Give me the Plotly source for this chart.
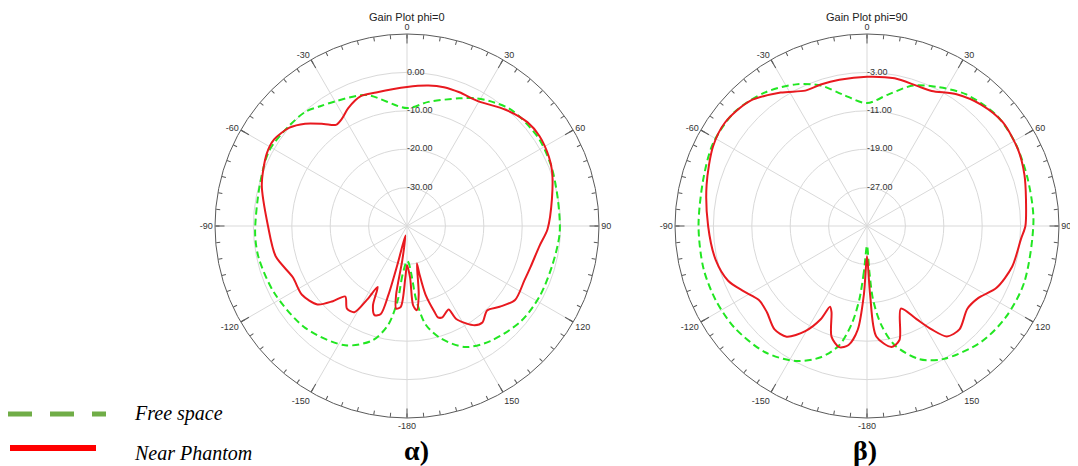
import plotly.graph_objects as go

# The page adds an 8px body margin, so the figure is sized/positioned to compensate.
VW, VH = 1078, 466
OFF = 8
W, H = VW - OFF, VH - OFF


def px(x):
    return (x - OFF) / W


def py(y):
    return 1 - (y - OFF) / H


# ---------------- data ----------------
series_names = ["Free space", "Near Phantom"]
panel_titles = ["Gain Plot phi=0", "Gain Plot phi=90"]
panel_labels = ["α)", "β)"]

angle_tickvals = [0, 30, 60, 90, 120, 150, 180, 210, 240, 270, 300, 330]
angle_ticktext = ["0", "30", "60", "90", "120", "150", "-180", "-150", "-120", "-90", "-60", "-30"]
minor_tickvals = list(range(0, 360, 5))

# ---- phi = 0 panel (dB) ----
r_range_phi0 = [-40, 10]
r_ticks_phi0 = [0, -10, -20, -30]
r_ticktext_phi0 = ["0.00", "-10.00", "-20.00", "-30.00"]

theta_free_phi0 = [-180, -174.7, -172.9, -169.3, -163.4, -152.6, -135, -116.8, -102.2, -92.9,
                   -74.4, -61.3, -50, -41.7, -35.9, -29.6, -17.2, 0, 9.8, 22.2, 28, 33.6, 40.8,
                   46.6, 56.8, 67.9, 79.8, 92.7, 105.1, 117.9, 129.7, 144.1, 154.2, 163.2, 169.3,
                   172.9, 174.7, 177.6, 180]
gain_free_phi0 = [-30.9, -27.1, -20.6, -13.9, -9.0, -5.0, -2.5, -1.3, -0.5, -0.4,
                  -0.2, 0.9, 0.3, -0.2, -1.5, -2.6, -4.3, -9.3, -7.2, -4.1, -2.3, -0.95, 0.5,
                  0.9, 1.2, 0.65, -0.1, -0.2, -0.8, -0.9, -1.3, -3.0, -5.0, -9.4, -13.9,
                  -20.6, -27.1, -30.5, -30.9]

theta_near_phi0 = [180, -178.2, -175.6, -172.5, -171.0, -172.2, -170.5, -166.1, -164.9, -163.4,
                   -160.0, -156.8, -154.3, -151.5, -148.6, -144.0, -138.8, -135.4, -131.2, -123.2,
                   -114.2, -103.0, -90, -74.2, -62.7, -56.9, -50.1, -44.9, -39.2, -35.1, -31.1,
                   -26.5, -19.6, -13.0, 0, 8.7, 14.9, 21.4, 29.6, 40.3, 49.2, 55.9, 64.1, 69.2,
                   79.4, 91.3, 98.5, 108.3, 115.0, 124.4, 131.1, 136.5, 142.0, 145.7, 152.1, 153.5,
                   158.8, 161.3, 162.2, 164.9, 165.5, 165.2, 170.3, 173.4, 175.6, 176.6, 180]
gain_near_phi0 = [-29.8, -26.6, -18.9, -18.3, -21.9, -31.1, -37.5, -30.0, -21.5, -16.1,
                  -15.3, -17.5, -22.4, -18.1, -13.7, -13.4, -15.6, -12.5, -9.0, -7.3,
                  -7.4, -4.9, -3.8, -0.7, 1.1, 1.3, -0.1, -2.4, -5.7, -7.8, -7.3,
                  -5.7, -4.1, -4.3, -3.8, -3.0, -2.6, -2.6, -2.6, -0.3, 1.4, 1.7, 1.1, 0.4,
                  -1.6, -3.4, -5.1, -6.1, -6.3, -5.9, -8.0, -9.7, -8.1, -8.7, -12.6, -15.7,
                  -14.5, -14.9, -16.4, -21.5, -27.1, -29.9, -21.9, -17.9, -19.3, -26.6, -29.8]

# ---- phi = 90 panel (dB) ----
r_range_phi90 = [-35, 5]
r_ticks_phi90 = [-3, -11, -19, -27]
r_ticktext_phi90 = ["-3.00", "-11.00", "-19.00", "-27.00"]

theta_free_phi90 = [-180, -176.1, -174.0, -171.1, -166.9, -160.6, -152.2, -141.1, -127.5, -116.1,
                    -104.6, -90, -73.6, -61.7, -49.3, -37.3, -26.6, -18.2, -10.6, 0, 9.3, 18.2,
                    27.1, 36.8, 49.5, 60.8, 73.3, 88, 109.7, 123.3, 135.4, 149.9, 158.5, 166.9,
                    171.9, 175.3, 177.0, 180]
gain_free_phi90 = [-30.9, -25.4, -19.5, -14.3, -9.5, -6.0, -3.2, -1.2, -0.2, 0.1,
                   0.2, 0.1, 0.5, 1.4, 1.4, 0.0, -2.0, -4.2, -7.1, -9.4, -7.2, -4.2,
                   -2.5, -0.7, 0.5, 0.4, -0.1, -0.3, -0.2, -0.4, -1.1, -3.0, -5.2, -9.5,
                   -14.3, -19.6, -25.4, -30.9]

theta_near_phi90 = [-180, -177.4, -174.9, -171.2, -167.1, -162.2, -157.6, -155.4, -153.6, -149.6,
                    -144.0, -138.2, -130.6, -124.4, -117.8, -111.5, -102.6, -90, -75.6, -62.7,
                    -53.8, -43.2, -32.9, -24.5, -18.1, -10.7, 0, 10.6, 19.4, 25.6, 34.2, 43.2,
                    52.6, 63.3, 71.9, 80.3, 90, 94.8, 105.7, 115.5, 123.0, 129.5, 138.2, 144.1,
                    148.0, 152.1, 157.7, 164.1, 168.5, 175.2, 177.4, 180]
gain_near_phi90 = [-28.7, -20.7, -13.3, -9.9, -9.1, -10.8, -15.6, -16.5, -13.3, -9.6,
                   -6.5, -6.1, -7.5, -7.7, -5.9, -3.9, -2.7, -1.9, -0.5, 1.1,
                   1.6, 0.7, -1.9, -4.0, -4.0, -4.0, -3.9, -3.7, -4.0, -3.8, -1.8, -0.3,
                   0.6, 0.25, -0.5, -1.4, -2.0, -2.8, -3.6, -5.1, -7.4, -7.9, -6.1, -6.6,
                   -9.6, -13.1, -16.4, -10.3, -9.3, -11.9, -20.7, -28.7]

# ---------------- figure ----------------
GREEN = "#22E622"
RED = "#E8191F"
GRID = "#D9D9D9"
RING = "#5A5A5A"
TXT = "#333333"

fig = go.Figure()

panels = [
    dict(base="polar", top="polar2", cx=407, r_range=r_range_phi0, r_ticks=r_ticks_phi0,
         r_text=r_ticktext_phi0, free=(theta_free_phi0, gain_free_phi0),
         near=(theta_near_phi0, gain_near_phi0)),
    dict(base="polar3", top="polar4", cx=867, r_range=r_range_phi90, r_ticks=r_ticks_phi90,
         r_text=r_ticktext_phi90, free=(theta_free_phi90, gain_free_phi90),
         near=(theta_near_phi90, gain_near_phi90)),
]

CY, RAD = 226, 192

for p in panels:
    # radial tick labels drawn along the 0 degree spoke
    fig.add_trace(go.Scatterpolar(
        r=p["r_ticks"], theta=[0] * len(p["r_ticks"]), mode="text", text=p["r_text"],
        textposition="middle right", textfont=dict(family="Arial, Liberation Sans", size=9, color=TXT),
        subplot=p["base"], showlegend=False, hoverinfo="skip"))
    th, g = p["free"]
    fig.add_trace(go.Scatterpolar(
        r=g, theta=th, mode="lines", name=series_names[0], subplot=p["top"], showlegend=False,
        line=dict(color=GREEN, width=2, dash="7px,4px", shape="spline", smoothing=0.85)))
    th, g = p["near"]
    fig.add_trace(go.Scatterpolar(
        r=g, theta=th, mode="lines", name=series_names[1], subplot=p["top"], showlegend=False,
        line=dict(color=RED, width=2, shape="spline", smoothing=0.8)))

    dom = dict(x=[px(p["cx"] - RAD), px(p["cx"] + RAD)], y=[py(CY + RAD), py(CY - RAD)])

    base = dict(
        domain=dom, bgcolor="white",
        radialaxis=dict(range=p["r_range"], tickvals=p["r_ticks"], showticklabels=False,
                        showline=False, ticks="", gridcolor=GRID, gridwidth=1),
        angularaxis=dict(rotation=90, direction="clockwise", tickmode="array",
                         tickvals=angle_tickvals, ticktext=angle_ticktext,
                         ticks="inside", ticklen=9, tickcolor=RING, tickwidth=1,
                         showline=True, linecolor=RING, linewidth=1,
                         gridcolor=GRID, gridwidth=1,
                         tickfont=dict(family="Arial, Liberation Sans", size=9, color=TXT)),
    )
    top = dict(
        domain=dom, bgcolor="rgba(0,0,0,0)",
        radialaxis=dict(range=p["r_range"], showticklabels=False, showline=False, ticks="",
                        showgrid=False),
        angularaxis=dict(rotation=90, direction="clockwise", tickmode="array",
                         tickvals=minor_tickvals, showticklabels=False,
                         ticks="inside", ticklen=4, tickcolor=RING, tickwidth=1,
                         showline=False, showgrid=False),
    )
    fig.update_layout({p["base"]: base, p["top"]: top})

annotations = []
for p, title, lab, lx in zip(panels, panel_titles, panel_labels, [416, 865]):
    annotations.append(dict(text=title, x=px(p["cx"]), y=py(17), xref="paper", yref="paper",
                            showarrow=False, xanchor="center", yanchor="middle",
                            font=dict(family="Arial, Liberation Sans", size=11, color="#222222")))
    annotations.append(dict(text="<b>" + lab + "</b>", x=px(lx), y=py(450), xref="paper",
                            yref="paper", showarrow=False, xanchor="center", yanchor="middle",
                            font=dict(family="Liberation Serif, Times New Roman", size=28, color="black")))

# legend (a separate graphic in the original figure)
legend_y = [413, 453]
for name, ly in zip(series_names, legend_y):
    annotations.append(dict(text="<i>" + name + "</i>", x=px(132), y=py(ly), xref="paper",
                            yref="paper", showarrow=False, xanchor="left", yanchor="middle",
                            font=dict(family="Liberation Serif, Times New Roman", size=20, color="black")))

shapes = [
    dict(type="line", xref="paper", yref="paper", x0=px(8), x1=px(106), y0=py(414), y1=py(414),
         line=dict(color="#70AD47", width=5, dash="24px,18px")),
    dict(type="line", xref="paper", yref="paper", x0=px(10), x1=px(96), y0=py(448), y1=py(448),
         line=dict(color="#FF0000", width=6)),
]

fig.update_layout(
    width=W, height=H, margin=dict(l=0, r=0, t=0, b=0),
    paper_bgcolor="white", plot_bgcolor="white", showlegend=False,
    annotations=annotations, shapes=shapes,
)

fig.write_html("out.html", config={"displayModeBar": False})
